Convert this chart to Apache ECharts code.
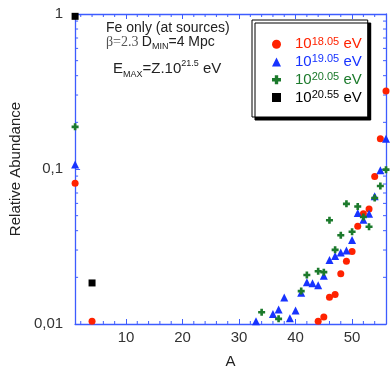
<!DOCTYPE html>
<html>
<head>
<meta charset="utf-8">
<script src="https://cdn.jsdelivr.net/npm/echarts@6/dist/echarts.min.js"></script>
<style>
  html, body { margin: 0; padding: 0; background: #fff; }
  #chart { width: 390px; height: 374px; }
</style>
</head>
<body>
<div id="chart"></div>
<script>
// mass number A and relative abundance per injection energy
const aRed = [1, 4, 44, 45, 46, 47, 48, 49, 50, 51, 52, 53, 54, 55, 56]
const vRed = [0.081, 0.0104, 0.0104, 0.0111, 0.0149, 0.0155, 0.0211, 0.0254, 0.0294, 0.0428, 0.0514, 0.0553, 0.0895, 0.157, 0.318]

const aBlue = [1, 33, 36, 37, 38, 39, 40, 41, 42, 43, 44, 45, 46, 47, 48, 49, 50, 51, 52, 53, 54, 55, 56]
const vBlue = [0.107, 0.0104, 0.0116, 0.0124, 0.0148, 0.0109, 0.0122, 0.0159, 0.0186, 0.0183, 0.0178, 0.0205, 0.0259, 0.0275, 0.0289, 0.0298, 0.0348, 0.052, 0.0471, 0.0514, 0.0667, 0.098, 0.157]

const aGreen = [1, 34, 37, 41, 42, 44, 45, 46, 47, 48, 49, 50, 51, 52, 53, 54, 55, 56]
const vGreen = [0.187, 0.0119, 0.0108, 0.0163, 0.0207, 0.0219, 0.0216, 0.0467, 0.0301, 0.0374, 0.0596, 0.0394, 0.0573, 0.049, 0.0424, 0.065, 0.0777, 0.099]

const aBlack = [1, 4]
const vBlack = [0.966, 0.0184]

const energyExp = ['18.05', '19.05', '20.05', '20.55']
const energyColors = ['#ff2200', '#1733ff', '#1c7a2c', '#000000']

// axis ticks
const xMajor = [10, 20, 30, 40, 50]
const xMinor = [2, 4, 6, 8, 12, 14, 16, 18, 22, 24, 26, 28, 32, 34, 36, 38, 42, 44, 46, 48, 52, 54]
const yMinor = [0.02, 0.03, 0.04, 0.05, 0.06, 0.07, 0.08, 0.09, 0.2, 0.3, 0.4, 0.5, 0.6, 0.7, 0.8, 0.9]

const X_MIN = 1, X_MAX = 56, Y_MIN = 0.01, Y_MAX = 1
const axisBlue = '#3d5cff'
const font = 'Liberation Sans, Arial, sans-serif'

const pairs = (a, v) => a.map((x, i) => [x, v[i]])
const plusPath = 'path://M2.5,0H5.5V2.5H8V5.5H5.5V8H2.5V5.5H0V2.5H2.5Z'
const symbols = ['circle', 'triangle', plusPath, 'rect']
const sizes = [7, 8, 7, 7]
const seriesData = [pairs(aRed, vRed), pairs(aBlue, vBlue), pairs(aGreen, vGreen), pairs(aBlack, vBlack)]
const names = energyExp.map(e => '10^' + e + ' eV')

const chart = echarts.init(document.getElementById('chart'), null, { renderer: 'canvas' })

const baseX = {
  type: 'value', min: X_MIN, max: X_MAX,
  axisLine: { lineStyle: { color: axisBlue, width: 1.3 } },
  axisTick: { inside: true, length: 5, customValues: xMajor, lineStyle: { color: axisBlue } },
  splitLine: { show: false }
}
const baseY = {
  type: 'log', logBase: 10, min: Y_MIN, max: Y_MAX,
  axisLine: { show: true, lineStyle: { color: axisBlue, width: 1.3 } },
  axisTick: { show: true, inside: true, length: 5, lineStyle: { color: axisBlue } },
  minorTick: { show: false },
  splitLine: { show: false }
}

const tickSeries = (data, draw) => ({
  type: 'custom', silent: true, z: 1, clip: false,
  data: data,
  renderItem: (params, api) => ({ type: 'group', children: draw(api) })
})

const lineEl = (x1, y1, x2, y2) => ({
  type: 'line', shape: { x1, y1, x2, y2 },
  style: { stroke: axisBlue, lineWidth: 1 }
})

chart.setOption({
  animation: false,
  backgroundColor: '#fff',
  grid: { left: 65, right: 4, top: 14, bottom: 46 },
  xAxis: [
    Object.assign({}, baseX, {
      position: 'bottom',
      name: 'A', nameLocation: 'middle', nameGap: 30,
      nameTextStyle: { color: '#222', fontSize: 15, fontFamily: font },
      axisLabel: { customValues: xMajor, color: '#333', fontSize: 15, fontFamily: font, margin: 6 }
    }),
    Object.assign({}, baseX, { position: 'top', axisLabel: { show: false } })
  ],
  yAxis: [
    Object.assign({}, baseY, {
      position: 'left',
      name: 'Relative Abundance', nameLocation: 'middle', nameGap: 46,
      nameTextStyle: { color: '#222', fontSize: 15, fontFamily: font },
      axisLabel: {
        color: '#333', fontSize: 15, fontFamily: font, margin: 12,
        formatter: v => String(v).replace('.', ',')
      }
    }),
    Object.assign({}, baseY, { position: 'right', axisLabel: { show: false } })
  ],
  legend: {
    orient: 'vertical', left: 252, top: 20,
    data: names.map((n, i) => ({ name: n, textStyle: { color: energyColors[i] } })),
    itemWidth: 9, itemHeight: 9, itemGap: 2,
    padding: [16, 6, 12, 20],
    backgroundColor: '#fff', borderColor: '#000', borderWidth: 1,
    shadowColor: '#000', shadowBlur: 0.01, shadowOffsetX: 3, shadowOffsetY: 3,
    selectedMode: false,
    formatter: n => '{p|}{b|10}{s|' + energyExp[names.indexOf(n)] + '}{b| eV}',
    textStyle: {
      fontFamily: font,
      rich: {
        p: { width: 9, lineHeight: 16 },
        b: { fontSize: 15, lineHeight: 16.5, fontFamily: font },
        s: { fontSize: 11, lineHeight: 8, verticalAlign: 'top', fontFamily: font }
      }
    }
  },
  graphic: [
    {
      type: 'text', left: 106, top: 21,
      style: { text: 'Fe only (at sources)', fill: '#222', font: '14px ' + font }
    },
    {
      type: 'text', left: 106, top: 35,
      style: {
        text: '{g|β=2.3} {t|D}{sub|MIN}{t|=4 Mpc}',
        rich: {
          g: { fontFamily: 'Liberation Serif, serif', fontSize: 14, fill: '#555', verticalAlign: 'top', lineHeight: 16 },
          t: { fontFamily: font, fontSize: 14, fill: '#222', verticalAlign: 'top', lineHeight: 16 },
          sub: { fontFamily: font, fontSize: 9, fill: '#222', verticalAlign: 'bottom', lineHeight: 10 }
        }
      }
    },
    {
      type: 'text', left: 113, top: 59,
      style: {
        text: '{t|E}{sub|MAX}{t|=Z.10}{sup|21.5}{t| eV}',
        rich: {
          t: { fontFamily: font, fontSize: 15, fill: '#222', lineHeight: 20, verticalAlign: 'middle' },
          sub: { fontFamily: font, fontSize: 9, fill: '#222', verticalAlign: 'bottom', lineHeight: 8 },
          sup: { fontFamily: font, fontSize: 9, fill: '#222', verticalAlign: 'top', lineHeight: 8 }
        }
      }
    }
  ],
  series: seriesData.map((d, i) => ({
    name: names[i],
    type: 'scatter',
    data: d,
    symbol: symbols[i],
    symbolSize: sizes[i],
    itemStyle: { color: energyColors[i], opacity: 1 },
    clip: false,
    z: 3
  })).concat([
    tickSeries(xMinor.map(x => [x, Y_MIN]), api => {
      const b = api.coord([api.value(0), Y_MIN])
      const t = api.coord([api.value(0), Y_MAX])
      return [lineEl(b[0], b[1], b[0], b[1] - 3), lineEl(t[0], t[1], t[0], t[1] + 3)]
    }),
    tickSeries(yMinor.map(y => [X_MIN, y]), api => {
      const l = api.coord([X_MIN, api.value(1)])
      const r = api.coord([X_MAX, api.value(1)])
      return [lineEl(l[0], l[1], l[0] + 3, l[1]), lineEl(r[0], r[1], r[0] - 3, r[1])]
    })
  ])
})
</script>
</body>
</html>
